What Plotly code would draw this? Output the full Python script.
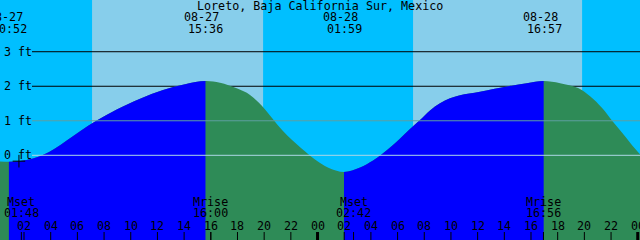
import plotly.graph_objects as go

# ---------------- data ----------------
title_text = "Loreto, Baja California Sur, Mexico"

# hours since 08-27 00:00, tide height in ft
tide_hours = [0.20, 0.87, 1.70, 2.67, 3.57, 4.32, 5.20, 6.20, 7.45, 8.95, 10.70, 12.42,
              14.07, 15.60, 16.69, 17.94, 18.94, 19.84, 20.59, 21.34, 22.09, 22.76,
              23.44, 24.19, 24.94, 25.98, 27.19, 28.16, 28.91, 29.59, 30.19, 30.93,
              31.68, 32.43, 33.18, 33.93, 34.68, 36.18, 38.18, 39.68, 40.95, 42.18,
              43.53, 44.43, 45.33, 46.08, 46.83, 47.50, 48.17]
tide_feet = [-0.18, -0.19, -0.165, -0.09, 0.04, 0.20, 0.43, 0.70, 1.01, 1.33, 1.64, 1.89,
             2.06, 2.15, 2.10, 1.94, 1.75, 1.43, 1.08, 0.73, 0.44, 0.21,
             -0.01, -0.22, -0.38, -0.48, -0.35, -0.15, 0.06, 0.28, 0.49, 0.76,
             1.02, 1.30, 1.51, 1.65, 1.74, 1.84, 1.99, 2.09, 2.15, 2.09,
             1.95, 1.71, 1.37, 1.00, 0.65, 0.33, 0.03]

# tide extremes (labels at top)
tide_dates = ["08-27", "08-27", "08-28", "08-28"]
tide_clock = ["00:52", "15:36", "01:59", "16:57"]
tide_day = [0, 0, 1, 1]

# moon events (labels at bottom)
moon_names = ["Mset", "Mrise", "Mset", "Mrise"]
moon_clock = ["01:48", "16:00", "02:42", "16:56"]
moon_day = [0, 0, 1, 1]

# daylight periods (hours since 08-27 00:00)
day_start = [7.10, 31.16]
day_end = [19.92, 43.83]

# horizontal level lines (ft)
levels_under = [3, 2]
levels_over = [1, 0]
level_over_colors = ["#5F9EA0", "#ADD8E6"]
level_labels = [3, 2, 1, 0]

hour_ticks = list(range(0, 49, 2))
midnights = [24, 48]

marker_hour = [1.62]
marker_feet = [-0.17]

# ---------------- layout constants ----------------
X_RANGE = [0.2, 48.17]
Y_RANGE = [-2.453, 4.498]
NIGHT = "#00BFFF"
DAY = "#87CEEB"
RISE = "#0000FF"
FALL = "#2E8B57"
FONT = dict(family="DejaVu Sans Mono", size=11.7, color="black")


def clock_to_hours(c, day):
    h, m = c.split(":")
    return day * 24 + int(h) + int(m) / 60.0


def to_paper(h):
    return (h - X_RANGE[0]) / (X_RANGE[1] - X_RANGE[0])


fig = go.Figure()
base = [Y_RANGE[0]] * len(tide_hours)
line_spec = dict(width=0, shape="spline", smoothing=1)

# whole curve as falling water (green)
fig.add_trace(go.Scatter(x=tide_hours, y=base, mode="lines", line=dict(width=0),
                         hoverinfo="skip"))
fig.add_trace(go.Scatter(x=tide_hours, y=tide_feet, mode="lines", fill="tonexty",
                         fillcolor=FALL, line=line_spec, hoverinfo="skip"))

# rising parts (blue) drawn on clipped x-axes spanning low -> high
extremes = [clock_to_hours(c, d) for c, d in zip(tide_clock, tide_day)]
axis_cfg = {}
k = 2
for i in range(len(extremes) - 1):
    lo_i = tide_hours.index(min(tide_hours, key=lambda t: abs(t - extremes[i])))
    hi_i = tide_hours.index(min(tide_hours, key=lambda t: abs(t - extremes[i + 1])))
    if tide_feet[hi_i] <= tide_feet[lo_i]:
        continue
    a, b = extremes[i], extremes[i + 1]
    axis_cfg[f"xaxis{k}"] = dict(domain=[to_paper(a), to_paper(b)], range=[a, b],
                                 anchor="y", showgrid=False, zeroline=False, showline=False,
                                 showticklabels=False, ticks="", fixedrange=True)
    fig.add_trace(go.Scatter(x=tide_hours, y=base, mode="lines", line=dict(width=0),
                             xaxis=f"x{k}", yaxis="y", hoverinfo="skip"))
    fig.add_trace(go.Scatter(x=tide_hours, y=tide_feet, mode="lines", fill="tonexty",
                             fillcolor=RISE, line=line_spec, xaxis=f"x{k}", yaxis="y",
                             hoverinfo="skip"))
    k += 1

shapes = []
for s, e in zip(day_start, day_end):
    shapes.append(dict(type="rect", xref="paper", yref="paper", x0=to_paper(s), x1=to_paper(e),
                       y0=0, y1=1, fillcolor=DAY, line=dict(width=0), layer="below"))
for lv in levels_under:
    shapes.append(dict(type="line", xref="paper", yref="y", x0=32 / 640, x1=1, y0=lv, y1=lv,
                       line=dict(color="black", width=1), layer="below"))
for lv, c in zip(levels_over, level_over_colors):
    shapes.append(dict(type="line", xref="paper", yref="y", x0=32 / 640, x1=1, y0=lv, y1=lv,
                       line=dict(color=c, width=1), layer="above"))
for h in hour_ticks:
    shapes.append(dict(type="line", xref="paper", yref="paper", x0=to_paper(h), x1=to_paper(h),
                       y0=0, y1=8 / 240, line=dict(color="black", width=1), layer="above"))
for m in midnights:
    shapes.append(dict(type="line", xref="paper", yref="paper", x0=to_paper(m), x1=to_paper(m),
                       y0=0, y1=8 / 240, line=dict(color="black", width=3), layer="above"))

annotations = []
annotations.append(dict(text=title_text, x=0.5, xref="paper", y=1 - 6 / 240, yref="paper",
                        showarrow=False, xanchor="center", yanchor="middle", font=FONT))
for d, c, dd in zip(tide_dates, tide_clock, tide_day):
    h = clock_to_hours(c, dd)
    annotations.append(dict(text=d, x=h, xref="x", y=1 - 17.5 / 240, yref="paper",
                            xshift=-3.5, showarrow=False, xanchor="center", yanchor="middle",
                            font=FONT))
    annotations.append(dict(text=c, x=h, xref="x", y=1 - 29 / 240, yref="paper",
                            xshift=0.5, showarrow=False, xanchor="center", yanchor="middle",
                            font=FONT))
for name, c, dd in zip(moon_names, moon_clock, moon_day):
    h = clock_to_hours(c, dd)
    annotations.append(dict(text=name, x=h, xref="x", y=1 - 202 / 240, yref="paper",
                            showarrow=False, xanchor="center", yanchor="middle", font=FONT))
    annotations.append(dict(text=c, x=h, xref="x", y=1 - 213 / 240, yref="paper",
                            showarrow=False, xanchor="center", yanchor="middle", font=FONT))
    shapes.append(dict(type="line", xref="paper", yref="paper", x0=to_paper(h), x1=to_paper(h),
                       y0=0, y1=8 / 240, line=dict(color="black", width=1), layer="above"))
for h in hour_ticks:
    annotations.append(dict(text=f"{h % 24:02d}", x=h, xref="x", y=1 - 226 / 240, yref="paper",
                            showarrow=False, xanchor="center", yanchor="middle", font=FONT))
for lv in level_labels:
    annotations.append(dict(text=f"{lv} ft", x=1.5 / 640, xref="paper", y=lv, yref="y",
                            showarrow=False, xanchor="left", yanchor="middle", font=FONT))

# small cross marker near the first low water (drawn on the first rising sub-axis)
fig.add_trace(go.Scatter(x=marker_hour, y=marker_feet, mode="markers",
                         xaxis="x2", yaxis="y", cliponaxis=False, hoverinfo="skip",
                         marker=dict(symbol="cross-thin", size=9,
                                     line=dict(color="black", width=1))))

fig.update_layout(
    width=640, height=240, margin=dict(l=0, r=0, t=0, b=0),
    plot_bgcolor="rgba(0,0,0,0)", paper_bgcolor=NIGHT, showlegend=False,
    xaxis=dict(range=X_RANGE, domain=[0, 1], showgrid=False, zeroline=False, showline=False,
               ticks="", showticklabels=False, fixedrange=True),
    yaxis=dict(range=Y_RANGE, domain=[0, 1], showgrid=False, zeroline=False, showline=False,
               showticklabels=False, ticks="", fixedrange=True),
    shapes=shapes, annotations=annotations,
    **axis_cfg,
)

fig.write_html("out.html")
